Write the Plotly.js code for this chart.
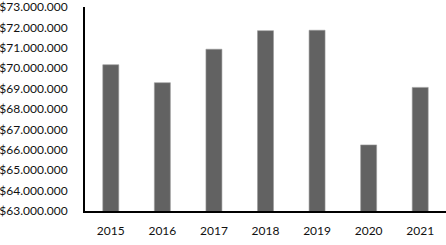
<!DOCTYPE html>
<html>
<head>
<meta charset="utf-8">
<script src="https://cdn.plot.ly/plotly-3.0.1.min.js"></script>
<style>
html,body{margin:0;padding:0;background:#fff;}
#chart{width:446px;height:245px;}
</style>
</head>
<body>
<div id="chart"></div>
<script>
const years = ["2015", "2016", "2017", "2018", "2019", "2020", "2021"];
const values = [70170000, 69290000, 70930000, 71840000, 71860000, 66240000, 69060000];
const yTicks = [63000000, 64000000, 65000000, 66000000, 67000000, 68000000, 69000000, 70000000, 71000000, 72000000, 73000000];
const yTickText = ["$63.000.000", "$64.000.000", "$65.000.000", "$66.000.000", "$67.000.000", "$68.000.000", "$69.000.000", "$70.000.000", "$71.000.000", "$72.000.000", "$73.000.000"];

const trace = {
  type: "bar",
  x: years,
  y: values,
  marker: {color: "#626262", line: {color: "#9a9a9a", width: 0.6}},
  hoverinfo: "skip"
};

const layout = {
  width: 446,
  height: 245,
  margin: {l: 85, r: 0, t: 7, b: 34},
  paper_bgcolor: "#ffffff",
  plot_bgcolor: "#ffffff",
  bargap: 0.69,
  showlegend: false,
  font: {family: "Lato, 'Open Sans', sans-serif", size: 12, color: "#111111"},
  xaxis: {
    type: "category",
    showgrid: false,
    zeroline: false,
    showline: true,
    linecolor: "#000000",
    linewidth: 2,
    ticks: "outside",
    ticklen: 8,
    tickcolor: "rgba(0,0,0,0)",
    tickfont: {family: "Lato, 'Open Sans', sans-serif", size: 12, color: "#111111"}
  },
  yaxis: {
    range: [63000000, 73000000],
    tickmode: "array",
    tickvals: yTicks,
    ticktext: yTickText,
    ticklabeloverflow: "allow",
    showgrid: false,
    zeroline: false,
    showline: true,
    linecolor: "#000000",
    linewidth: 2,
    ticks: "outside",
    ticklen: 13,
    tickcolor: "rgba(0,0,0,0)",
    tickfont: {family: "Lato, 'Open Sans', sans-serif", size: 12, color: "#111111"}
  }
};

Plotly.newPlot("chart", [trace], layout, {staticPlot: true, displayModeBar: false});
</script>
</body>
</html>
